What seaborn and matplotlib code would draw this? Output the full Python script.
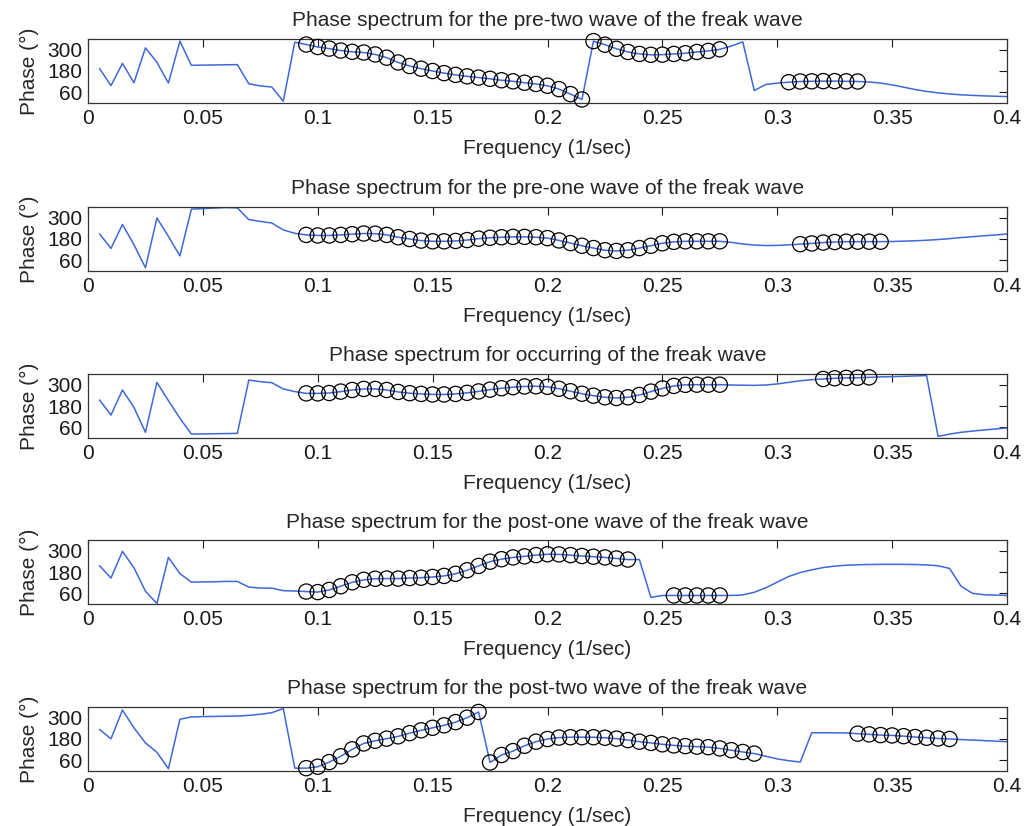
import numpy as np
import pandas as pd
import matplotlib
matplotlib.use("Agg")
import matplotlib.pyplot as plt
import seaborn as sns

sns.set_style("white")
plt.rcParams['font.family'] = ['Liberation Sans', 'DejaVu Sans']

# frequency grid (1/sec)
freq = [0.005, 0.01, 0.015, 0.02, 0.025, 0.03, 0.035, 0.04, 0.045, 0.05,
        0.055, 0.06, 0.065, 0.07, 0.075, 0.08, 0.085, 0.09, 0.095, 0.1,
        0.105, 0.11, 0.115, 0.12, 0.125, 0.13, 0.135, 0.14, 0.145, 0.15,
        0.155, 0.16, 0.165, 0.17, 0.175, 0.18, 0.185, 0.19, 0.195, 0.2,
        0.205, 0.21, 0.215, 0.22, 0.225, 0.23, 0.235, 0.24, 0.245, 0.25,
        0.255, 0.26, 0.265, 0.27, 0.275, 0.28, 0.285, 0.29, 0.295, 0.3,
        0.305, 0.31, 0.315, 0.32, 0.325, 0.33, 0.335, 0.34, 0.345, 0.35,
        0.355, 0.36, 0.365, 0.37, 0.375, 0.38, 0.385, 0.39, 0.395, 0.4]

# phase (deg) for each wave
pre_two = [194, 98, 223, 114, 310, 229, 112, 348, 212, 213, 214, 215, 216, 108, 96, 90, 10, 342,
           329, 315, 306, 295, 288, 284, 273, 255, 228, 208, 193, 180, 168, 158, 150, 143, 136, 128,
           122, 114, 107, 97, 78, 50, 20,
           348, 328, 305, 287, 276, 271, 272, 276, 280, 287, 293, 302,
           320, 344, 70, 104, 112, 117, 121, 122, 123, 123, 122, 121,
           118, 112, 102, 89, 76, 65, 57, 51, 46, 43, 40, 38, 36]
pre_one = [209, 127, 262, 148, 18, 298, 195, 85, 348, 351, 354, 357, 355, 289, 279, 270, 231, 212,
           203, 200, 200, 203, 207, 211, 210, 203, 190, 180, 171, 167, 167, 169, 174, 182, 187, 190,
           192, 192, 190, 185, 172, 157, 142,
           129, 117, 113, 117, 129, 142, 156, 164, 167, 167, 167, 167,
           161, 152, 146, 143, 144, 147, 151, 155, 160, 163, 165, 165,
           165, 165, 166, 168, 170, 173, 177, 182, 188, 193, 198, 203, 208]
occurring = [214, 129, 270, 172, 32, 313, 210, 111, 22, 23, 24, 25, 26, 326, 317, 311, 276, 261,
             251, 251, 253, 261, 270, 276, 276, 270, 259, 252, 248, 245, 245, 248, 254, 262, 272, 280,
             286, 290, 291, 288, 277, 263, 249,
             238, 229, 225, 229, 242, 261, 279, 293, 299, 300, 300, 300,
             298, 297, 296, 298, 304, 313, 322, 328, 332, 336, 338, 339,
             341, 344, 345, 347, 349, 351, 9, 22, 32, 39, 45, 51, 56]
post_one = [216, 146, 296, 204, 72, 3, 262, 171, 123, 124, 125, 127, 127, 95, 90, 89, 75, 73,
            70, 67, 79, 100, 122, 136, 142, 143, 143, 146, 148, 152, 158, 170, 190, 214, 238, 252,
            262, 268, 275, 280, 279, 275, 270,
            266, 262, 256, 250, 250, 37, 48, 48, 48, 48, 48, 48,
            48, 51, 66, 91, 123, 155, 177, 192, 205, 213, 218, 221,
            222, 223, 223, 223, 222, 220, 215, 200, 100, 60, 52, 50, 48]
post_two = [234, 181, 343, 243, 158, 105, 13, 291, 304, 306, 307, 308, 309, 313, 319, 328, 351, 16,
            16, 24, 50, 83, 122, 155, 170, 182, 195, 213, 229, 243, 257, 275, 300, 332, 48, 90,
            112, 142, 165, 180, 188, 190, 190,
            190, 187, 182, 174, 165, 158, 150, 144, 140, 137, 134, 127,
            117, 107, 98, 83, 68, 58, 50, 215, 215, 215, 214, 210,
            206, 202, 200, 196, 191, 187, 183, 180, 177, 174, 171, 168, 165]

titles = ["Phase spectrum for the pre-two wave of the freak wave",
          "Phase spectrum for the pre-one wave of the freak wave",
          "Phase spectrum for occurring of the freak wave",
          "Phase spectrum for the post-one wave of the freak wave",
          "Phase spectrum for the post-two wave of the freak wave"]

# frequency bands marked with circles
marked = [[(0.095, 0.215), (0.22, 0.275), (0.305, 0.335)],
          [(0.095, 0.275), (0.31, 0.345)],
          [(0.095, 0.275), (0.32, 0.34)],
          [(0.095, 0.235), (0.255, 0.275)],
          [(0.095, 0.17), (0.175, 0.29), (0.335, 0.375)]]

series = [pre_two, pre_one, occurring, post_one, post_two]

fig = plt.figure(figsize=(10.24, 8.26), dpi=100)
W, H = 1024, 826
left, right = 88, 1007
tops = [39, 207, 374, 540, 707]
ax_h = 64
fs = 15

for i, (phase, title, bands) in enumerate(zip(series, titles, marked)):
    top = tops[i]
    ax = fig.add_axes([left / W, 1 - (top + ax_h) / H, (right - left) / W, ax_h / H])
    df = pd.DataFrame({'Frequency': freq, 'Phase': phase})
    sns.lineplot(data=df, x='Frequency', y='Phase', ax=ax, color='#4068d6',
                 linewidth=1.1, sort=False)
    for lo, hi in bands:
        sub = df[(df['Frequency'] >= lo - 1e-9) & (df['Frequency'] <= hi + 1e-9)]
        ax.scatter(sub['Frequency'], sub['Phase'], s=120, facecolors='none',
                   edgecolors='black', linewidths=0.9, zorder=3, clip_on=False)
    ax.set_xlim(0, 0.4)
    ax.set_ylim(0, 360)
    ax.set_xticks([0, 0.05, 0.1, 0.15, 0.2, 0.25, 0.3, 0.35, 0.4])
    ax.set_xticklabels(['0', '0.05', '0.1', '0.15', '0.2', '0.25', '0.3', '0.35', '0.4'])
    ax.set_yticks([60, 180, 300])
    ax.tick_params(direction='in', top=True, right=True, length=6, width=0.8,
                   labelsize=fs, colors='#1a1a1a', pad=4)
    for sp in ax.spines.values():
        sp.set_color('#333333')
        sp.set_linewidth(0.9)
    ax.set_title(title, fontsize=fs, pad=9)
    ax.set_xlabel('Frequency (1/sec)', fontsize=fs, labelpad=8)
    ax.set_ylabel('Phase (°)', fontsize=fs, labelpad=6)

fig.savefig('out.png', dpi=100)
